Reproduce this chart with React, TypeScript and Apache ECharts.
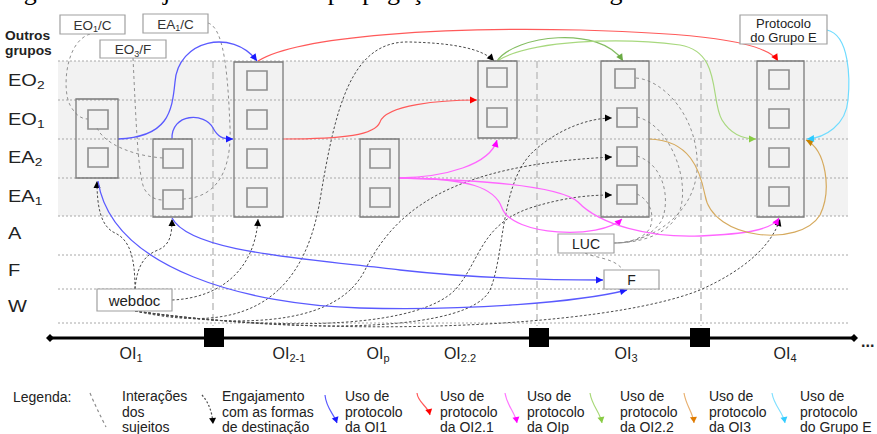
import React, { useEffect, useRef } from 'react';
import * as echarts from 'echarts';

type Pt = [number, number];

const CHART_W = 877;
const CHART_H = 434;
const FONT = 'Liberation Sans, Arial, sans-serif';

// ---- rows ----
const rowNames = ['EO', 'EO', 'EA', 'EA', 'A', 'F', 'W'];
const rowSubs = ['2', '1', '2', '1', '', '', ''];
const rowLabelY = [81, 120, 158, 197, 234, 271, 307];
const rowLineY = [61, 100, 139, 178, 216, 255, 289, 323];
const bandRect = [58, 61, 848, 216];
const gridXRange = [58, 848];
const otherGroupsLabel = ['Outros', 'grupos'];
const otherGroupsY = [36, 51];

// ---- phases / timeline ----
const phaseLineX = [213, 537, 701];
const phaseLineY = [61, 326];
const milestoneX = [214, 539, 700];
const timelineY = 338;
const timelineX = [50, 854];
const phaseNames = ['OI', 'OI', 'OI', 'OI', 'OI', 'OI'];
const phaseSubs = ['1', '2-1', 'p', '2.2', '3', '4'];
const phaseLabelX = [131, 289, 378, 460, 626, 785];
const phaseLabelY = 353;

// ---- stage boxes [x0, y0, x1, y1] ----
const stageBoxes = [
  [76, 99, 118, 178],
  [153, 139, 192, 217],
  [234, 62, 283, 217],
  [360, 139, 399, 217],
  [478, 61, 517, 138],
  [601, 61, 649, 217],
  [757, 61, 804, 217],
];
// ---- small cells (top-left) ----
const cellPos: Pt[] = [
  [88, 110], [88, 148],
  [163, 149], [163, 190],
  [247, 71], [247, 110], [247, 149], [247, 188],
  [370, 149], [370, 188],
  [487, 68], [487, 108],
  [615, 69], [617, 108], [617, 147], [617, 185],
  [769, 70], [769, 109], [769, 148], [769, 187],
];
const cellSize = [20, 19];

// ---- note boxes ----
const noteRects = [
  [60, 15, 125, 34],
  [143, 14, 208, 33],
  [100, 40, 166, 58],
  [740, 15, 827, 44],
  [97, 289, 172, 311],
  [558, 234, 614, 253],
  [604, 270, 659, 289],
];
const noteTexts = ['{m|EO}{s|1}{m|/C}', '{m|EA}{s|1}{m|/C}', '{m|EO}{s|3}{m|/F}', 'Protocolo\ndo Grupo E', 'webdoc', 'LUC', 'F'];
const noteFontSize = [13.5, 13.5, 13.5, 13, 15, 14, 14];

// ---- curves (cubic bezier chains) ----
const blueCurves: Pt[][] = [
  [[118, 139], [168, 137], [172, 112], [175, 82], [178, 40], [232, 28], [257, 61]],
  [[172, 139], [171, 113], [205, 112], [213, 128], [218, 137], [222, 139], [233, 139]],
  [[98, 181], [112, 270], [250, 305], [360, 308], [470, 311], [580, 302], [627, 290]],
  [[172, 218], [190, 252], [300, 258], [400, 270], [480, 279], [560, 280], [603, 280]],
];
const redCurves: Pt[][] = [
  [[258, 61], [300, 35], [450, 27], [580, 30], [690, 33], [765, 40], [778, 61]],
  [[283, 139], [345, 139], [375, 135], [380, 122], [386, 105], [440, 100], [477, 100]],
];
const magentaCurves: Pt[][] = [
  [[399, 178], [445, 177], [490, 165], [497, 140]],
  [[399, 178], [470, 178], [495, 188], [502, 208], [512, 236], [600, 240], [622, 219]],
  [[399, 178], [485, 180], [560, 186], [578, 202], [600, 225], [650, 238], [700, 236], [745, 234], [772, 230], [779, 218]],
];
const greenDarkCurves: Pt[][] = [
  [[497, 61], [515, 35], [600, 25], [623, 61]],
];
const greenLightCurves: Pt[][] = [
  [[497, 61], [530, 40], [620, 37], [680, 45], [722, 52], [710, 100], [722, 120], [730, 133], [742, 139], [756, 139]],
];
const orangeCurves: Pt[][] = [
  [[649, 139], [690, 140], [700, 170], [705, 195], [712, 240], [800, 248], [820, 215], [832, 190], [826, 150], [806, 140]],
];
const cyanCurves: Pt[][] = [
  [[827, 30], [850, 35], [850, 80], [848, 100], [846, 125], [825, 138], [807, 139]],
];
const engagementCurves: Pt[][] = [
  [[135, 289], [135, 258], [130, 240], [115, 233], [100, 226], [97, 205], [97, 181]],
  [[135, 289], [137, 265], [145, 255], [158, 250], [170, 245], [172, 235], [172, 219]],
  [[172, 300], [220, 298], [255, 270], [258, 219]],
  [[135, 311], [220, 330], [300, 320], [320, 200], [335, 110], [350, 40], [410, 42], [450, 43], [482, 48], [494, 61]],
  [[135, 311], [260, 332], [340, 320], [365, 270], [395, 210], [450, 165], [612, 157]],
  [[135, 311], [300, 334], [420, 325], [455, 290], [480, 262], [480, 225], [530, 208], [565, 197], [590, 195], [612, 195]],
  [[135, 311], [320, 336], [470, 330], [490, 290], [505, 255], [500, 180], [535, 150], [560, 128], [590, 118], [612, 118]],
  [[135, 311], [320, 338], [600, 330], [700, 290], [745, 270], [772, 245], [780, 219]],
];
const interactionCurves: Pt[][] = [
  [[90, 34], [65, 42], [62, 90], [70, 105], [76, 116], [82, 119], [88, 119]],
  [[97, 128], [105, 145], [135, 156], [163, 158]],
  [[133, 58], [136, 120], [138, 180], [145, 190], [150, 198], [157, 200], [163, 200]],
  [[208, 23], [225, 28], [228, 80], [230, 127], [232, 180], [210, 198], [183, 199]],
  [[636, 78], [665, 80], [700, 120], [697, 170], [694, 215], [650, 243], [614, 243]],
  [[637, 117], [670, 125], [690, 180], [680, 210], [670, 235], [640, 243], [614, 243]],
  [[637, 156], [665, 165], [670, 200], [662, 220], [652, 236], [635, 243], [614, 243]],
  [[637, 194], [650, 200], [655, 215], [650, 228], [644, 238], [630, 243], [614, 243]],
  [[585, 253], [595, 258], [615, 258], [623, 270]],
];

// ---- legend ----
const legendIconCurves: Pt[][] = [
  [[90, 393], [95, 405], [100, 415], [106, 427]],
  [[202, 395], [208, 402], [212, 410], [213, 424]],
  [[325, 395], [326, 408], [334, 414], [337, 423]],
  [[417, 393], [418, 403], [428, 406], [430, 415]],
  [[505, 393], [507, 406], [515, 412], [517, 423]],
  [[590, 393], [592, 406], [600, 412], [602, 423]],
  [[684, 393], [686, 406], [693, 412], [694, 423]],
  [[772, 393], [774, 406], [783, 412], [785, 423]],
];
const legendLineColors = ['#8c8c8c', '#4d4d4d', '#5a5aff', '#ff5a5a', '#ff77ff', '#a8d878', '#e8b070', '#80e0ff'];
const legendArrowColors = ['', '#000000', '#1a1aff', '#ff0000', '#ff00ff', '#88cc44', '#e07b00', '#33ccff'];
const legendDash = [[3, 3], [2, 2], null, null, null, null, null, null];
const legendTextX = [122, 222, 345, 440, 527, 620, 709, 800];
const legendTextY = 396;
const legendLines = [
  ['Interações', 'dos', 'sujeitos'],
  ['Engajamento', 'com as formas', 'de destinação'],
  ['Uso de', 'protocolo', 'da OI1'],
  ['Uso de', 'protocolo', 'da OI2.1'],
  ['Uso de', 'protocolo', 'da OIp'],
  ['Uso de', 'protocolo', 'da OI2.2'],
  ['Uso de', 'protocolo', 'da OI3'],
  ['Uso de', 'protocolo', 'do Grupo E'],
];
const legendTitle = 'Legenda:';
const legendTitlePos: Pt = [13, 397];

const titleText = 'Figura 10 – Trajetória de uso e propagação no ambiente organizacional';

// ------------------------------------------------------------------

function idx(n: number) {
  return Array.from({ length: n }, (_, i) => [i, i]);
}

function custom(id: string, n: number, z: number, renderItem: any) {
  return {
    type: 'custom',
    id,
    coordinateSystem: 'cartesian2d',
    data: idx(n),
    encode: { x: 0, y: 1 },
    z,
    silent: true,
    clip: false,
    renderItem,
  };
}

function curveEls(pts: number[][], stroke: string, width: number, dash: number[] | null, arrowColor: string | null, aLen = 7, aHalf = 3.5) {
  let d = `M${pts[0][0]},${pts[0][1]}`;
  for (let i = 1; i + 2 < pts.length; i += 3) {
    d += ` C${pts[i][0]},${pts[i][1]} ${pts[i + 1][0]},${pts[i + 1][1]} ${pts[i + 2][0]},${pts[i + 2][1]}`;
  }
  const children: any[] = [
    {
      type: 'path',
      shape: { pathData: d },
      style: { fill: 'none', stroke, lineWidth: width, lineDash: dash || undefined },
    },
  ];
  if (arrowColor) {
    const e = pts[pts.length - 1];
    let p = pts[pts.length - 2];
    if (Math.hypot(e[0] - p[0], e[1] - p[1]) < 0.5) p = pts[pts.length - 3];
    const dx = e[0] - p[0];
    const dy = e[1] - p[1];
    const l = Math.hypot(dx, dy) || 1;
    const ux = dx / l;
    const uy = dy / l;
    const bx = e[0] - ux * aLen;
    const by = e[1] - uy * aLen;
    children.push({
      type: 'polygon',
      shape: { points: [[e[0], e[1]], [bx - uy * aHalf, by + ux * aHalf], [bx + uy * aHalf, by - ux * aHalf]] },
      style: { fill: arrowColor, stroke: 'none' },
    });
  }
  return { type: 'group', children };
}

function curveSeries(id: string, curves: Pt[][], z: number, stroke: string, width: number, dash: number[] | null, arrowColor: string | null) {
  return custom(id, curves.length, z, (params: any, api: any) => {
    const pts = curves[params.dataIndex].map((p) => api.coord(p));
    return curveEls(pts, stroke, width, dash, arrowColor);
  });
}

const subRich = (size: number, color = '#222') => ({
  m: { fontSize: size, lineHeight: size + 4, fontFamily: FONT, fill: color },
  s: { fontSize: Math.round(size * 0.68), lineHeight: Math.round(size * 0.55), verticalAlign: 'bottom', fontFamily: FONT, fill: color },
});

function buildOption() {
  const series: any[] = [];

  // background band
  series.push(custom('band', 1, 1, (_p: any, api: any) => {
    const a = api.coord([bandRect[0], bandRect[1]]);
    const b = api.coord([bandRect[2], bandRect[3]]);
    return { type: 'rect', shape: { x: a[0], y: a[1], width: b[0] - a[0], height: b[1] - a[1] }, style: { fill: '#f2f2f2' } };
  }));

  // row grid lines
  series.push(custom('rowLines', rowLineY.length, 2, (p: any, api: any) => {
    const y = rowLineY[p.dataIndex];
    const a = api.coord([gridXRange[0], y]);
    const b = api.coord([gridXRange[1], y]);
    return { type: 'line', shape: { x1: a[0], y1: a[1], x2: b[0], y2: b[1] }, style: { stroke: '#a8a8a8', lineWidth: 1, lineDash: [2, 2] } };
  }));

  // phase separators
  series.push(custom('phaseLines', phaseLineX.length, 3, (p: any, api: any) => {
    const x = phaseLineX[p.dataIndex];
    const a = api.coord([x, phaseLineY[0]]);
    const b = api.coord([x, phaseLineY[1]]);
    return { type: 'line', shape: { x1: a[0], y1: a[1], x2: b[0], y2: b[1] }, style: { stroke: '#c4c4c4', lineWidth: 1.6, lineDash: [7, 4] } };
  }));

  // row labels
  series.push(custom('rowLabels', rowNames.length, 10, (p: any, api: any) => {
    const i = p.dataIndex;
    const c = api.coord([8, rowLabelY[i]]);
    const t = rowSubs[i] ? `{m|${rowNames[i]}}{s|${rowSubs[i]}}` : `{m|${rowNames[i]}}`;
    return {
      type: 'text', x: c[0], y: c[1], scaleX: 1.25,
      style: { text: t, rich: subRich(16), align: 'left', textAlign: 'left', verticalAlign: 'middle', textVerticalAlign: 'middle', fontFamily: FONT },
    };
  }));
  series.push(custom('otherGroups', otherGroupsLabel.length, 10, (p: any, api: any) => {
    const c = api.coord([5, otherGroupsY[p.dataIndex]]);
    return {
      type: 'text', x: c[0], y: c[1], scaleX: 1.15,
      style: { text: otherGroupsLabel[p.dataIndex], fontSize: 12, fontWeight: 'bold', fontFamily: FONT, fill: '#222', align: 'left', textAlign: 'left', verticalAlign: 'middle', textVerticalAlign: 'middle' },
    };
  }));

  // curves
  series.push(curveSeries('interactions', interactionCurves, 4, '#8f8f8f', 1, [3, 3], null));
  series.push(curveSeries('engagement', engagementCurves, 5, '#4a4a4a', 1, [2.5, 2], '#000'));
  series.push(curveSeries('blue', blueCurves, 6, '#5a5aff', 1.3, null, '#1a1aff'));
  series.push(curveSeries('red', redCurves, 6, '#ff5a5a', 1.2, null, '#ff0000'));
  series.push(curveSeries('magenta', magentaCurves, 6, '#ff66ff', 1.3, null, '#ff00ff'));
  series.push(curveSeries('greenDark', greenDarkCurves, 6, '#84bd62', 1.2, null, '#6aaa44'));
  series.push(curveSeries('greenLight', greenLightCurves, 6, '#a8d87e', 1.2, null, '#88cc44'));
  series.push(curveSeries('orange', orangeCurves, 6, '#d6aa5e', 1.2, null, '#c78200'));
  series.push(curveSeries('cyan', cyanCurves, 6, '#70dcff', 1.2, null, '#2ccaff'));

  // stage boxes
  series.push(custom('stageBoxes', stageBoxes.length, 7, (p: any, api: any) => {
    const r = stageBoxes[p.dataIndex];
    const a = api.coord([r[0], r[1]]);
    const b = api.coord([r[2], r[3]]);
    return { type: 'rect', shape: { x: a[0], y: a[1], width: b[0] - a[0], height: b[1] - a[1] }, style: { fill: 'none', stroke: '#7a7a7a', lineWidth: 1.3 } };
  }));
  series.push(custom('cells', cellPos.length, 7, (p: any, api: any) => {
    const c = cellPos[p.dataIndex];
    const a = api.coord(c);
    const b = api.coord([c[0] + cellSize[0], c[1] + cellSize[1]]);
    return { type: 'rect', shape: { x: a[0], y: a[1], width: b[0] - a[0], height: b[1] - a[1] }, style: { fill: 'none', stroke: '#8e8e8e', lineWidth: 1.6 } };
  }));

  // note boxes
  series.push(custom('notes', noteRects.length, 8, (p: any, api: any) => {
    const i = p.dataIndex;
    const r = noteRects[i];
    const a = api.coord([r[0], r[1]]);
    const b = api.coord([r[2], r[3]]);
    const fs = noteFontSize[i];
    const rich = noteTexts[i].indexOf('{') >= 0;
    return {
      type: 'group',
      children: [
        { type: 'rect', shape: { x: a[0], y: a[1], width: b[0] - a[0], height: b[1] - a[1] }, style: { fill: '#fff', stroke: '#a0a0a0', lineWidth: 1.2 } },
        {
          type: 'text', x: (a[0] + b[0]) / 2, y: (a[1] + b[1]) / 2 + 0.5,
          style: {
            text: noteTexts[i], fontSize: fs, fontFamily: FONT, fill: '#222', lineHeight: fs + 1,
            rich: rich ? subRich(fs, '#333') : undefined,
            align: 'center', textAlign: 'center', verticalAlign: 'middle', textVerticalAlign: 'middle',
          },
        },
      ],
    };
  }));

  // timeline
  series.push(custom('timeline', 1, 9, (_p: any, api: any) => {
    const a = api.coord([timelineX[0], timelineY]);
    const b = api.coord([timelineX[1], timelineY]);
    const dia = (x: number, y: number) => ({ type: 'polygon', shape: { points: [[x - 4, y], [x, y - 4], [x + 4, y], [x, y + 4]] }, style: { fill: '#000' } });
    return {
      type: 'group',
      children: [
        { type: 'line', shape: { x1: a[0], y1: a[1], x2: b[0], y2: b[1] }, style: { stroke: '#000', lineWidth: 3 } },
        dia(a[0], a[1]),
        dia(b[0], b[1]),
        { type: 'text', x: b[0] + 7, y: b[1] + 3, style: { text: '...', fontSize: 16, fontWeight: 'bold', fontFamily: FONT, fill: '#222', align: 'left', textAlign: 'left', verticalAlign: 'middle', textVerticalAlign: 'middle' } },
      ],
    };
  }));
  series.push(custom('milestones', milestoneX.length, 10, (p: any, api: any) => {
    const c = api.coord([milestoneX[p.dataIndex], timelineY]);
    return { type: 'rect', shape: { x: c[0] - 10, y: c[1] - 10, width: 20, height: 19 }, style: { fill: '#000' } };
  }));
  series.push(custom('phaseLabels', phaseNames.length, 10, (p: any, api: any) => {
    const i = p.dataIndex;
    const c = api.coord([phaseLabelX[i], phaseLabelY]);
    return {
      type: 'text', x: c[0], y: c[1],
      style: { text: `{m|${phaseNames[i]}}{s|${phaseSubs[i]}}`, rich: subRich(16), align: 'center', textAlign: 'center', verticalAlign: 'middle', textVerticalAlign: 'middle', fontFamily: FONT },
    };
  }));

  // legend
  series.push(custom('legendIcons', legendIconCurves.length, 10, (p: any, api: any) => {
    const i = p.dataIndex;
    const pts = legendIconCurves[i].map((q) => api.coord(q));
    return curveEls(pts, legendLineColors[i], 1.2, legendDash[i], legendArrowColors[i] || null, 6, 3.5);
  }));
  series.push(custom('legendTexts', legendLines.length, 10, (p: any, api: any) => {
    const i = p.dataIndex;
    const c = api.coord([legendTextX[i], legendTextY]);
    return {
      type: 'text', x: c[0], y: c[1] - 7.75,
      style: { text: legendLines[i].join('\n'), fontSize: 14, lineHeight: 15.5, fontFamily: FONT, fill: '#222', align: 'left', textAlign: 'left', verticalAlign: 'top', textVerticalAlign: 'top' },
    };
  }));
  series.push(custom('legendTitle', 1, 10, (_p: any, api: any) => {
    const c = api.coord(legendTitlePos);
    return {
      type: 'text', x: c[0], y: c[1],
      style: { text: legendTitle, fontSize: 14, fontFamily: FONT, fill: '#222', align: 'left', textAlign: 'left', verticalAlign: 'middle', textVerticalAlign: 'middle' },
    };
  }));

  // clipped caption at the very top (only its descenders show, as in the source)
  series.push(custom('caption', 1, 10, (_p: any, api: any) => {
    const c = api.coord([2, -9]);
    return {
      type: 'text', x: c[0], y: c[1],
      style: { text: titleText, fontSize: 26, fontFamily: 'Liberation Serif, Times New Roman, serif', fill: '#000', align: 'left', textAlign: 'left', verticalAlign: 'middle', textVerticalAlign: 'middle' },
    };
  }));

  return {
    animation: false,
    backgroundColor: '#ffffff',
    grid: { left: 0, right: 0, top: 0, bottom: 0, containLabel: false },
    xAxis: { type: 'value', min: 0, max: CHART_W, show: false },
    yAxis: { type: 'value', min: 0, max: CHART_H, inverse: true, show: false },
    series,
  };
}

export default function App() {
  const ref = useRef<HTMLDivElement>(null);
  useEffect(() => {
    document.body.style.margin = '0';
    const chart = echarts.init(ref.current as HTMLDivElement, null, { renderer: 'svg' });
    chart.setOption(buildOption() as any);
    return () => chart.dispose();
  }, []);
  return <div ref={ref} style={{ width: CHART_W, height: CHART_H }} />;
}
